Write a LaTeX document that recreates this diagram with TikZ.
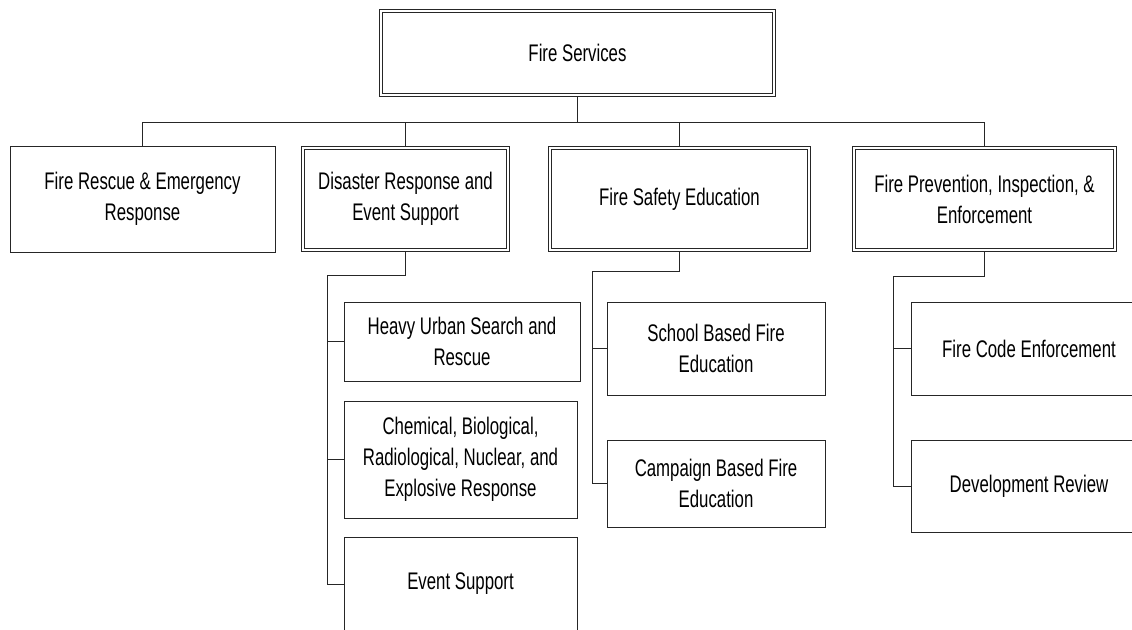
\documentclass[tikz,border=0pt]{standalone}
\usepackage{fontspec}
\setmainfont{Liberation Sans}[FakeStretch=0.70]
\usetikzlibrary{positioning}
\newdimen\pxu
\pxu=0.75pt

\begin{document}
\begin{tikzpicture}[
  x=0.75pt, y=-0.75pt,
  font=\fontsize{18}{23.25}\selectfont,
  unit/.style={
    rectangle,
    draw=black!85,
    line width=0.8\pxu,
    fill=white,
    align=center,
    inner sep=0pt,
    outer sep=0pt
  },
  dept/.style={
    unit,
    double=white,
    double distance=2.2\pxu,
    outer sep=1.9\pxu
  },
  link/.style={draw=black!85, line width=0.9\pxu}
]
\useasboundingbox (0,0) rectangle (1132,629);
\clip (0,0) rectangle (1132,629);

% top and first row
\node[dept, minimum width=393\pxu, minimum height=84\pxu] (fs) at (577.5,53) {Fire Services};

\node[unit, minimum width=265\pxu, minimum height=106\pxu] (rescue) at (142.5,199) {Fire Rescue \& Emergency\\Response};
\node[dept, minimum width=205\pxu, minimum height=102\pxu] (disaster) at (405.5,199) {Disaster Response and\\Event Support};
\node[dept, minimum width=259\pxu, minimum height=102\pxu] (safety) at (679.5,199) {Fire Safety Education};
\node[dept, minimum width=261\pxu, minimum height=102\pxu] (prevent) at (984.5,199) {Fire Prevention, Inspection, \&\\Enforcement};

% second row
\node[unit, minimum width=236\pxu, minimum height=79\pxu] (husar) at (462,341.5) {Heavy Urban Search and\\Rescue};
\node[unit, minimum width=233\pxu, minimum height=117\pxu, below=20\pxu of husar.south west, anchor=north west] (cbrne) {Chemical, Biological,\\Radiological, Nuclear, and\\Explosive Response};
\node[unit, minimum width=233\pxu, minimum height=94\pxu, below=19\pxu of cbrne.south west, anchor=north west] (event) {Event Support};

\node[unit, minimum width=218\pxu, minimum height=93\pxu] (school) at (716,348.5) {School Based Fire\\Education};
\node[unit, minimum width=218\pxu, minimum height=87\pxu, below=45\pxu of school.south west, anchor=north west] (campaign) {Campaign Based Fire\\Education};

\node[unit, minimum width=236\pxu, minimum height=93\pxu] (code) at (1029,348.5) {Fire Code Enforcement};
\node[unit, minimum width=236\pxu, minimum height=92\pxu, below=45\pxu of code.south west, anchor=north west] (devrev) {Development Review};

% connectors
\coordinate (bus) at (577.5,122);
\draw[link] (fs.south) -- (bus);
\draw[link] (rescue.north |- bus) -- (prevent.north |- bus);
\foreach \n in {rescue,disaster,safety,prevent}
  \draw[link] (\n.north |- bus) -- (\n.north);

\coordinate (trA) at (327,275);
\draw[link] (disaster.south) |- (trA) |- (event.west);
\draw[link] (trA |- husar.west) -- (husar.west);
\draw[link] (trA |- cbrne.west) -- (cbrne.west);

\coordinate (trB) at (592,271);
\draw[link] (safety.south) |- (trB) |- (campaign.west);
\draw[link] (trB |- school.west) -- (school.west);

\coordinate (trC) at (893,276);
\draw[link] (prevent.south) |- (trC) |- (devrev.west);
\draw[link] (trC |- code.west) -- (code.west);

\end{tikzpicture}
\end{document}
